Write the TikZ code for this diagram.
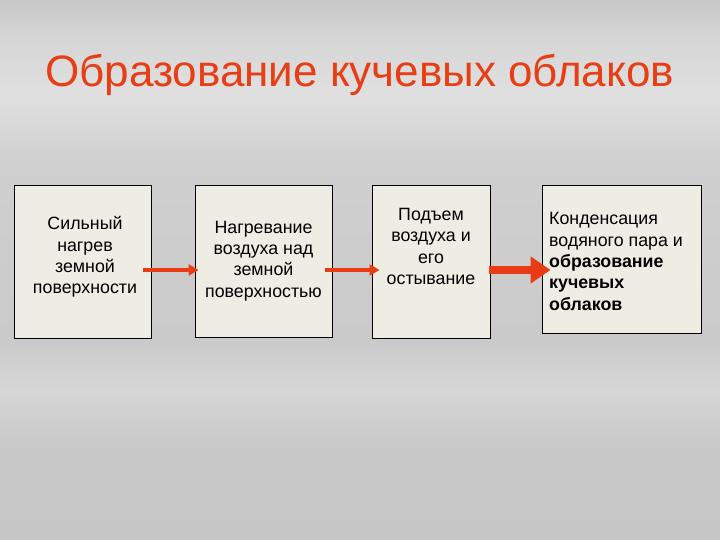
\documentclass[tikz,border=0pt]{standalone}
\usepackage{fontspec}
\setmainfont{Liberation Sans}
\usetikzlibrary{calc,arrows.meta}
\definecolor{titlered}{RGB}{232,62,22}
\definecolor{arrowred}{RGB}{234,60,20}
\definecolor{boxfill}{RGB}{237,237,227}
\tikzset{
  boxst/.style={draw=black, line width=0.9pt, fill=boxfill, inner sep=0pt},
  boxtext/.style={align=center, inner sep=0pt, font=\fontsize{17.8}{21.4}\selectfont},
  flowthin/.style={draw=arrowred, line width=4pt, -{Triangle[length=10pt,width=11pt]}},
  flowthick/.style={draw=arrowred, line width=8pt, -{Triangle[length=20pt,width=26pt]}},
}
\begin{document}
\begin{tikzpicture}[x=1pt,y=-1pt]
\useasboundingbox (0,0) rectangle (720,540);
% background bands
\shade[top color={rgb,255:red,200;green,200;blue,200}, bottom color={rgb,255:red,214;green,214;blue,214}] (0,0) rectangle (720,40);
\shade[top color={rgb,255:red,214;green,214;blue,214}, bottom color={rgb,255:red,224;green,224;blue,224}] (0,40) rectangle (720,95);
\shade[top color={rgb,255:red,224;green,224;blue,224}, bottom color={rgb,255:red,208;green,208;blue,208}] (0,95) rectangle (720,160);
\shade[top color={rgb,255:red,208;green,208;blue,208}, bottom color={rgb,255:red,202;green,202;blue,202}] (0,160) rectangle (720,340);
\shade[top color={rgb,255:red,202;green,202;blue,202}, bottom color={rgb,255:red,214;green,214;blue,214}] (0,340) rectangle (720,390);
\shade[top color={rgb,255:red,214;green,214;blue,214}, bottom color={rgb,255:red,200;green,200;blue,200}] (0,390) rectangle (720,450);
\shade[top color={rgb,255:red,200;green,200;blue,200}, bottom color={rgb,255:red,198;green,198;blue,198}] (0,450) rectangle (720,540);
% title
\node[text=titlered, font=\fontsize{44}{50}\selectfont, anchor=base west, inner sep=0pt] (title) at (45,87) {Образование кучевых облаков};
% boxes
\node[boxst, minimum width=137pt, minimum height=153pt] (b1) at (82.5,261.5) {};
\node[boxst, minimum width=137pt, minimum height=152pt] (b2) at (263.5,261) {};
\node[boxst, minimum width=118pt, minimum height=153pt] (b3) at (431,261.5) {};
\node[boxst, minimum width=159pt, minimum height=148pt] (b4) at (621.5,259) {};
% texts
\node[boxtext] (t1) at (85,257) {Сильный\\нагрев\\земной\\поверхности};
\node[boxtext] (t2) at (263.5,261) {Нагревание\\воздуха над\\земной\\поверхностью};
\node[boxtext] (t3) at (431,246.5) {Подъем\\воздуха и\\его\\остывание};
\node[boxtext, align=left, anchor=west] (t4) at (549,261.5) {Конденсация\\водяного пара и\\\textbf{образование}\\\textbf{кучевых}\\\textbf{облаков}};
% arrows
\draw[flowthin] ($(b1.east)+(-8,8.5)$) -- ($(b2.west)+(4,9)$);
\draw[flowthin] ($(b2.east)+(-7,9)$) -- ($(b3.west)+(8,8.5)$);
\draw[flowthick] ($(b3.east)+(-1,8.5)$) -- ($(b4.west)+(9,11)$);
\end{tikzpicture}
\end{document}
